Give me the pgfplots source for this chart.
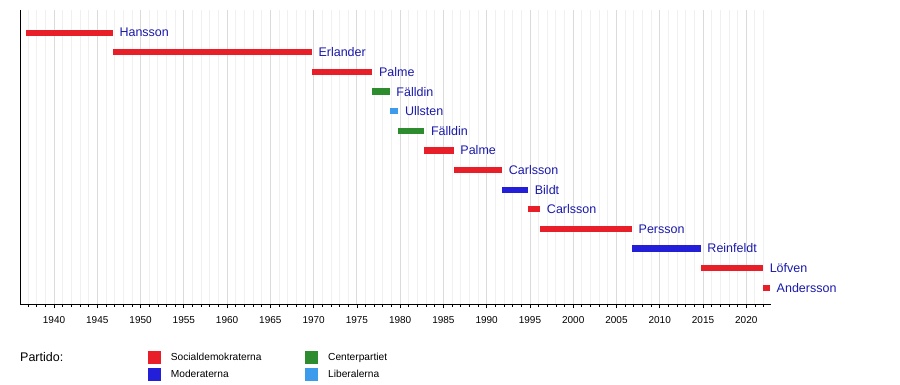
\documentclass[border=0pt]{standalone}
\usepackage{fontspec}
\setmainfont{Liberation Sans}
\usepackage{pgfplots}
\pgfplotsset{compat=1.18}
\definecolor{pred}{RGB}{232,30,40}
\definecolor{pblue}{RGB}{35,30,215}
\definecolor{pgreen}{RGB}{45,140,45}
\definecolor{plblue}{RGB}{60,155,235}
\definecolor{tblue}{RGB}{25,25,170}
\tikzset{lab/.style={anchor=west, inner sep=3.5pt, text=tblue, font=\fontsize{12.5}{14}\selectfont}}
\pgfplotsset{
  bar/.style={line width=6.3pt, forget plot},
  legsq/.style={legend image code/.code={\fill (0pt,-6.5pt) rectangle (13.3pt,6.5pt);}},
}
\begin{document}
\begin{tikzpicture}[x=1pt,y=1pt]
\path[use as bounding box] (0,0) rectangle (900,384);
\begin{axis}[
  at={(20.3pt,80pt)}, anchor=south west,
  scale only axis, width=750.2pt, height=294pt,
  xmin=1936.1, xmax=2022.8, ymin=0.172, ymax=15.157,
  clip=false,
  axis x line*=bottom, axis y line*=left,
  axis line style={black, line width=0.9pt},
  ytick=\empty,
  xtick={1940,1945,...,2020},
  minor xtick={1937,...,2022},
  xmajorgrids, xminorgrids,
  major grid style={color=black!14, line width=0.8pt},
  minor grid style={color=black!6, line width=0.8pt},
  tick align=outside,
  major tick length=4pt, minor tick length=3pt,
  every tick/.style={black, line width=0.7pt},
  /pgf/number format/assume math mode=true,
  xticklabel style={font=\fontsize{10}{12}\selectfont, /pgf/number format/1000 sep={}, yshift=-4.5pt},
  legend columns=2,
  legend cell align=left,
  legend style={at={(0.1698,-0.1599)}, anchor=north west, draw=none, fill=none,
    inner xsep=0pt, inner ysep=0pt, row sep=3.7pt,
    font=\fontsize{10.2}{12}\selectfont,
    nodes={inner sep=2pt},
    /tikz/every odd column/.append style={column sep=7.7pt},
    /tikz/every even column/.append style={column sep=41.6pt}},
]
\addplot[bar, pred] coordinates {(1936.75,14) (1946.8,14)} node[pos=1, lab] {Hansson};
\addplot[bar, pred] coordinates {(1946.8,13) (1969.8,13)} node[pos=1, lab] {Erlander};
\addplot[bar, pred] coordinates {(1969.8,12) (1976.8,12)} node[pos=1, lab] {Palme};
\addplot[bar, pgreen] coordinates {(1976.8,11) (1978.8,11)} node[pos=1, lab] {Fälldin};
\addplot[bar, plblue] coordinates {(1978.8,10) (1979.8,10)} node[pos=1, lab] {Ullsten};
\addplot[bar, pgreen] coordinates {(1979.8,9) (1982.8,9)} node[pos=1, lab] {Fälldin};
\addplot[bar, pred] coordinates {(1982.8,8) (1986.2,8)} node[pos=1, lab] {Palme};
\addplot[bar, pred] coordinates {(1986.2,7) (1991.8,7)} node[pos=1, lab] {Carlsson};
\addplot[bar, pblue] coordinates {(1991.8,6) (1994.8,6)} node[pos=1, lab] {Bildt};
\addplot[bar, pred] coordinates {(1994.8,5) (1996.2,5)} node[pos=1, lab] {Carlsson};
\addplot[bar, pred] coordinates {(1996.2,4) (2006.8,4)} node[pos=1, lab] {Persson};
\addplot[bar, pblue] coordinates {(2006.8,3) (2014.75,3)} node[pos=1, lab] {Reinfeldt};
\addplot[bar, pred] coordinates {(2014.75,2) (2021.95,2)} node[pos=1, lab] {Löfven};
\addplot[bar, pred] coordinates {(2021.9,1) (2022.75,1)} node[pos=1, lab] {Andersson};
\addlegendimage{legsq, fill=pred, draw=none}
\addlegendentry{Socialdemokraterna}
\addlegendimage{legsq, fill=pgreen, draw=none}
\addlegendentry{Centerpartiet}
\addlegendimage{legsq, fill=pblue, draw=none}
\addlegendentry{Moderaterna}
\addlegendimage{legsq, fill=plblue, draw=none}
\addlegendentry{Liberalerna}
\end{axis}
\node[anchor=base west, inner sep=0pt, font=\fontsize{12.5}{14}\selectfont] at (20,22.3) {Partido:};
\end{tikzpicture}
\end{document}
